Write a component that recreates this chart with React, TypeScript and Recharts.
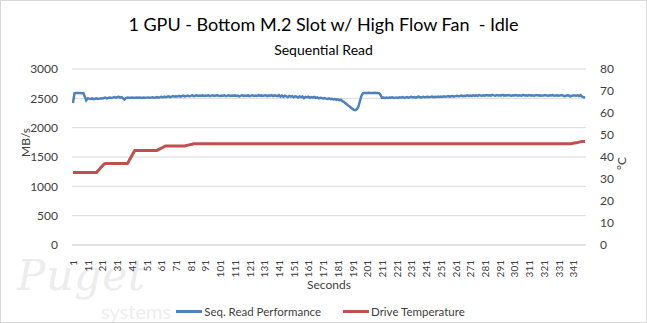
import { CartesianGrid, Legend, Line, LineChart, XAxis, YAxis } from "recharts"

// seconds 1..349
const seconds: number[] = Array.from({ length: 349 }, (_, i) => i + 1)

// Seq. Read Performance (MB/s)
const readPerf: number[] = [
    2420, 2585, 2590, 2590, 2592, 2590, 2588, 2590, 2530, 2465,
    2500, 2495, 2490, 2498, 2485, 2492, 2500, 2488, 2495, 2502,
    2496, 2505, 2512, 2500, 2508, 2515, 2506, 2512, 2520, 2510,
    2518, 2525, 2512, 2520, 2500, 2480, 2505, 2512, 2510, 2508,
    2512, 2510, 2508, 2512, 2510, 2515, 2510, 2508, 2512, 2510,
    2512, 2515, 2510, 2512, 2518, 2510, 2514, 2520, 2512, 2518,
    2525, 2515, 2530, 2520, 2528, 2535, 2522, 2530, 2538, 2528,
    2535, 2530, 2540, 2528, 2538, 2545, 2532, 2540, 2548, 2535,
    2542, 2550, 2538, 2545, 2552, 2540, 2548, 2545, 2550, 2542,
    2548, 2545, 2552, 2538, 2546, 2550, 2540, 2548, 2552, 2545,
    2540, 2548, 2545, 2552, 2538, 2546, 2550, 2542, 2548, 2545,
    2550, 2542, 2548, 2535, 2546, 2552, 2540, 2548, 2545, 2550,
    2538, 2546, 2552, 2542, 2548, 2540, 2555, 2545, 2550, 2542,
    2548, 2552, 2538, 2550, 2545, 2555, 2540, 2550, 2545, 2538,
    2555, 2530, 2548, 2525, 2545, 2535, 2520, 2542, 2530, 2538,
    2518, 2535, 2528, 2515, 2532, 2520, 2530, 2505, 2525, 2515,
    2528, 2510, 2520, 2512, 2525, 2508, 2515, 2500, 2510, 2505,
    2498, 2505, 2495, 2490, 2500, 2488, 2492, 2480, 2488, 2475,
    2482, 2470, 2478, 2455, 2440, 2420, 2400, 2380, 2360, 2340,
    2320, 2305, 2300, 2315, 2360, 2450, 2540, 2585, 2590, 2592,
    2590, 2595, 2590, 2592, 2590, 2594, 2590, 2592, 2588, 2560,
    2510, 2515, 2508, 2512, 2505, 2515, 2510, 2518, 2508, 2512,
    2515, 2508, 2518, 2512, 2520, 2510, 2515, 2522, 2512, 2518,
    2525, 2515, 2520, 2512, 2522, 2528, 2515, 2520, 2525, 2518,
    2522, 2528, 2518, 2525, 2530, 2520, 2528, 2522, 2532, 2525,
    2530, 2525, 2535, 2528, 2532, 2538, 2528, 2535, 2540, 2530,
    2538, 2545, 2535, 2540, 2548, 2536, 2545, 2540, 2550, 2542,
    2548, 2540, 2552, 2545, 2550, 2542, 2555, 2548, 2545, 2552,
    2545, 2555, 2548, 2552, 2545, 2558, 2550, 2545, 2555, 2548,
    2552, 2548, 2558, 2545, 2552, 2548, 2555, 2550, 2545, 2552,
    2548, 2555, 2545, 2552, 2550, 2545, 2558, 2548, 2552, 2545,
    2555, 2548, 2552, 2545, 2550, 2555, 2548, 2552, 2545, 2550,
    2548, 2555, 2550, 2545, 2552, 2548, 2555, 2545, 2550, 2552,
    2545, 2550, 2555, 2548, 2538, 2545, 2552, 2548, 2535, 2545,
    2550, 2548, 2545, 2552, 2538, 2555, 2530, 2520, 2510,
]

// Drive Temperature (°C)
const driveTemp: number[] = [
    33, 33, 33, 33, 33, 33, 33, 33, 33, 33,
    33, 33, 33, 33, 33, 33, 33, 33.7, 34.5, 35.3,
    36, 36.7, 37, 37, 37, 37, 37, 37, 37, 37,
    37, 37, 37, 37, 37, 37, 37, 37, 38.2, 39.4,
    40.6, 41.8, 43, 43, 43, 43, 43, 43, 43, 43,
    43, 43, 43, 43, 43, 43, 43, 43, 43.3, 43.7,
    44, 44.3, 44.7, 45, 45, 45, 45, 45, 45, 45,
    45, 45, 45, 45, 45, 45, 45, 45.2, 45.4, 45.5,
    45.7, 45.8, 46, 46, 46, 46, 46, 46, 46, 46,
    46, 46, 46, 46, 46, 46, 46, 46, 46, 46,
    46, 46, 46, 46, 46, 46, 46, 46, 46, 46,
    46, 46, 46, 46, 46, 46, 46, 46, 46, 46,
    46, 46, 46, 46, 46, 46, 46, 46, 46, 46,
    46, 46, 46, 46, 46, 46, 46, 46, 46, 46,
    46, 46, 46, 46, 46, 46, 46, 46, 46, 46,
    46, 46, 46, 46, 46, 46, 46, 46, 46, 46,
    46, 46, 46, 46, 46, 46, 46, 46, 46, 46,
    46, 46, 46, 46, 46, 46, 46, 46, 46, 46,
    46, 46, 46, 46, 46, 46, 46, 46, 46, 46,
    46, 46, 46, 46, 46, 46, 46, 46, 46, 46,
    46, 46, 46, 46, 46, 46, 46, 46, 46, 46,
    46, 46, 46, 46, 46, 46, 46, 46, 46, 46,
    46, 46, 46, 46, 46, 46, 46, 46, 46, 46,
    46, 46, 46, 46, 46, 46, 46, 46, 46, 46,
    46, 46, 46, 46, 46, 46, 46, 46, 46, 46,
    46, 46, 46, 46, 46, 46, 46, 46, 46, 46,
    46, 46, 46, 46, 46, 46, 46, 46, 46, 46,
    46, 46, 46, 46, 46, 46, 46, 46, 46, 46,
    46, 46, 46, 46, 46, 46, 46, 46, 46, 46,
    46, 46, 46, 46, 46, 46, 46, 46, 46, 46,
    46, 46, 46, 46, 46, 46, 46, 46, 46, 46,
    46, 46, 46, 46, 46, 46, 46, 46, 46, 46,
    46, 46, 46, 46, 46, 46, 46, 46, 46, 46,
    46, 46, 46, 46, 46, 46, 46, 46, 46, 46.1,
    46.25, 46.4, 46.5, 46.6, 46.75, 46.9, 47, 47, 47,
]

const leftTicks = [0, 500, 1000, 1500, 2000, 2500, 3000]
const rightTicks = [0, 10, 20, 30, 40, 50, 60, 70, 80]

const data = seconds.map((s, i) => ({ sec: s, read: readPerf[i], temp: driveTemp[i] }))

const FONT = "Lato, 'Noto Sans', sans-serif"
const BLUE = "#4f81bd"
const RED = "#c0504d"

const SecondsTick = ({ x, y, payload }: any) => (
    <text
        x={x}
        y={y + 7}
        transform={`rotate(-90, ${x}, ${y + 7})`}
        textAnchor="end"
        dominantBaseline="central"
        fontSize={10}
        fontFamily={FONT}
        fill="#404040"
    >
        {payload.value}
    </text>
)

const renderLegend = () => (
    <div style={{ display: "flex", justifyContent: "center", alignItems: "center", fontFamily: FONT, fontSize: 11.5, color: "#404040", paddingLeft: 14 }}>
        <span style={{ display: "inline-block", width: 26, height: 3, background: BLUE, marginRight: 2 }} />
        <span style={{ marginRight: 22 }}>Seq. Read Performance</span>
        <span style={{ display: "inline-block", width: 26, height: 3, background: RED, marginRight: 2 }} />
        <span>Drive Temperature</span>
    </div>
)

export default function App() {
    return (
        <div style={{ position: "relative", width: 647, height: 323, background: "#fff", boxSizing: "border-box", border: "1px solid #d9d9d9", overflow: "hidden" }}>
            <style>{`body{margin:0}`}</style>
            <div style={{ position: "absolute", left: 16, top: 250, fontFamily: "'DejaVu Serif', serif", fontStyle: "italic", fontSize: 42, color: "#ededed", letterSpacing: 1 }}>
                Puget
            </div>
            <div style={{ position: "absolute", left: 100, top: 298, fontFamily: FONT, fontSize: 20, color: "#ededed" }}>
                systems
            </div>
            <div style={{ position: "absolute", top: 12, width: "100%", textAlign: "center", fontFamily: FONT, fontSize: 18, color: "#000" }}>
                1 GPU - Bottom M.2 Slot w/ High Flow Fan&nbsp; - Idle
            </div>
            <div style={{ position: "absolute", top: 40, width: "100%", textAlign: "center", fontFamily: FONT, fontSize: 14, color: "#000" }}>
                Sequential Read
            </div>
            <LineChart
                width={645}
                height={321}
                data={data}
                margin={{ top: 68, right: 20, left: 0, bottom: 14 }}
                style={{ position: "absolute", left: 0, top: 0 }}
            >
                <CartesianGrid vertical={false} stroke="#d9d9d9" yAxisId="left" />
                <XAxis
                    dataKey="sec"
                    interval={9}
                    tick={<SecondsTick />}
                    tickLine={false}
                    axisLine={{ stroke: "#d9d9d9" }}
                    height={50}
                    padding={{ left: 1, right: 1 }}
                    label={{ value: "Seconds", position: "insideBottom", offset: 6, fontSize: 12, fontFamily: FONT, fill: "#404040" }}
                />
                <YAxis
                    yAxisId="left"
                    domain={[0, 3000]}
                    ticks={leftTicks}
                    axisLine={false}
                    tickLine={false}
                    width={71}
                    tick={{ fontSize: 12, fontFamily: FONT, fill: "#404040" }}
                    tickMargin={8}
                    label={{ value: "MB/s", angle: -90, position: "insideLeft", offset: 25, fontSize: 12, fontFamily: FONT, fill: "#404040" }}
                />
                <YAxis
                    yAxisId="right"
                    orientation="right"
                    domain={[0, 80]}
                    ticks={rightTicks}
                    axisLine={false}
                    tickLine={false}
                    width={40}
                    tick={{ fontSize: 12, fontFamily: FONT, fill: "#404040" }}
                    tickMargin={8}
                    label={{ value: "°C", angle: -90, position: "insideRight", offset: 4, fontSize: 12, fontFamily: FONT, fill: "#404040" }}
                />
                <Legend verticalAlign="bottom" content={renderLegend} wrapperStyle={{ bottom: 4 }} />
                <Line yAxisId="left" type="linear" dataKey="read" stroke={BLUE} strokeWidth={2.5} dot={false} isAnimationActive={false} />
                <Line yAxisId="right" type="linear" dataKey="temp" stroke={RED} strokeWidth={3} dot={false} isAnimationActive={false} />
            </LineChart>
        </div>
    )
}
